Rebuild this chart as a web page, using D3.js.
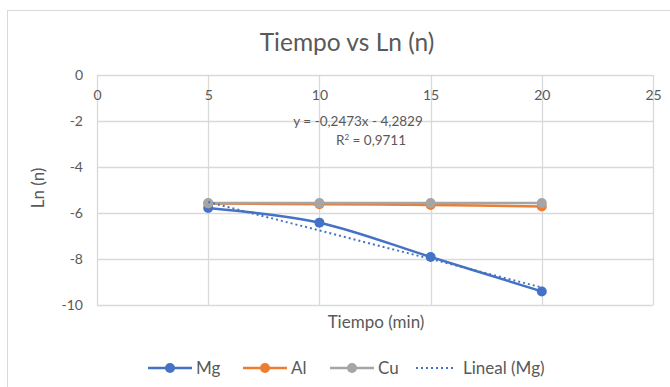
<!DOCTYPE html>
<html>
<head>
<meta charset="utf-8">
<script src="https://cdn.jsdelivr.net/npm/d3@7"></script>
<style>
   body { margin: 0; background: #fff; }
   svg { font-family: Lato, "Open Sans", sans-serif; }
</style>
</head>
<body>
<svg id="chart" width="670" height="387"></svg>
<script>
// DATA
var tiempo = [5, 10, 15, 20];
var lnMg = [-5.78, -6.42, -7.91, -9.41];
var lnAl = [-5.59, -5.62, -5.65, -5.72];
var lnCu = [-5.57, -5.57, -5.57, -5.57];
var xTicks = [0, 5, 10, 15, 20, 25];
var yTicks = [0, -2, -4, -6, -8, -10];
var seriesNames = ['Mg', 'Al', 'Cu'];
var seriesColors = ['#4472C4', '#ED7D31', '#A5A5A5'];
var trendLabel = 'Lineal (Mg)';
var equationText = 'y = -0,2473x - 4,2829';
var r2Value = '0,9711';

var svg = d3.select('#chart');
var textColor = '#595959';
var gridColor = '#d9d9d9';

var bounds = {left: 97, right: 653, top: 75, bottom: 305};

var x = d3.scaleLinear().domain([0, 25]).range([bounds.left, bounds.right]);
var y = d3.scaleLinear().domain([-10, 0]).range([bounds.bottom, bounds.top]);

// outer chart frame
svg.append('rect')
   .attr('x', 7.5).attr('y', 10.5)
   .attr('width', 700).attr('height', 420)
   .attr('fill', '#fff')
   .attr('stroke', gridColor);

// title
svg.append('text')
   .attr('x', 347).attr('y', 51)
   .attr('text-anchor', 'middle')
   .attr('fill', textColor)
   .style('font-size', '24.5px')
   .text('Tiempo vs Ln (n)');

// grid
var grid = svg.append('g').attr('class', 'grid');
grid.selectAll('.hgrid').data(yTicks).enter().append('line')
   .attr('x1', bounds.left).attr('x2', bounds.right)
   .attr('y1', function (d) { return Math.round(y(d)) + 0.5; })
   .attr('y2', function (d) { return Math.round(y(d)) + 0.5; })
   .attr('stroke', gridColor).attr('stroke-width', 1.3);
grid.selectAll('.vgrid').data(xTicks).enter().append('line')
   .attr('y1', bounds.top).attr('y2', bounds.bottom)
   .attr('x1', function (d) { return Math.round(x(d)) + 0.5; })
   .attr('x2', function (d) { return Math.round(x(d)) + 0.5; })
   .attr('stroke', gridColor).attr('stroke-width', 1.3);

// x axis sits at y = 0 (top), labels below it
var xAxis = d3.axisBottom(x).tickValues(xTicks).tickSize(0).tickPadding(15);
var gx = svg.append('g')
   .attr('transform', 'translate(0,' + y(0) + ')')
   .call(xAxis);
gx.select('.domain').remove();
gx.selectAll('text').attr('fill', textColor).style('font-size', '14px').style('font-family', 'Lato, sans-serif');

var yAxis = d3.axisLeft(y).tickValues(yTicks).tickSize(0).tickPadding(14)
   .tickFormat(function (d) { return d === 0 ? '0' : d3.format('d')(d).replace('−', '-'); });
var gy = svg.append('g')
   .attr('transform', 'translate(' + bounds.left + ',0)')
   .call(yAxis);
gy.select('.domain').remove();
gy.selectAll('text').attr('fill', textColor).style('font-size', '14px').style('font-family', 'Lato, sans-serif');

// axis titles
svg.append('text')
   .attr('x', 376).attr('y', 328)
   .attr('text-anchor', 'middle')
   .attr('fill', textColor)
   .style('font-size', '17px')
   .text('Tiempo (min)');
svg.append('text')
   .attr('transform', 'translate(44,188) rotate(-90)')
   .attr('text-anchor', 'middle')
   .attr('fill', textColor)
   .style('font-size', '17px')
   .text('Ln (n)');

// linear trend for Mg (least squares)
var mx = d3.mean(tiempo), my = d3.mean(lnMg);
var slope = d3.sum(tiempo, function (t, i) { return (t - mx) * (lnMg[i] - my); }) /
   d3.sum(tiempo, function (t) { return (t - mx) * (t - mx); });
var intercept = my - slope * mx;
var trendX = d3.extent(tiempo);

// series
var allSeries = [lnMg, lnAl, lnCu];
var line = d3.line()
   .x(function (d) { return x(d[0]); })
   .y(function (d) { return y(d[1]); })
   .curve(d3.curveCatmullRom.alpha(0.5));

[0, 1, 2].forEach(function (s) {
   var pts = tiempo.map(function (t, i) { return [t, allSeries[s][i]]; });
   svg.append('path')
      .attr('d', line(pts))
      .attr('fill', 'none')
      .attr('stroke', seriesColors[s])
      .attr('stroke-width', 2.5);
   svg.selectAll('.m' + s).data(pts).enter().append('circle')
      .attr('cx', function (d) { return x(d[0]); })
      .attr('cy', function (d) { return y(d[1]); })
      .attr('r', 5)
      .attr('fill', seriesColors[s]);
});

svg.append('line')
   .attr('x1', x(trendX[0])).attr('y1', y(slope * trendX[0] + intercept))
   .attr('x2', x(trendX[1])).attr('y2', y(slope * trendX[1] + intercept))
   .attr('stroke', seriesColors[0])
   .attr('stroke-width', 2)
   .attr('stroke-dasharray', '2,3');

// equation labels
svg.append('text')
   .attr('x', 358).attr('y', 126)
   .attr('text-anchor', 'middle')
   .attr('fill', textColor)
   .style('font-size', '13.5px')
   .text(equationText);
var r2 = svg.append('text')
   .attr('x', 371).attr('y', 145)
   .attr('text-anchor', 'middle')
   .attr('fill', textColor)
   .style('font-size', '13.5px');
r2.append('tspan').text('R');
r2.append('tspan').attr('dy', -5).style('font-size', '8px').text('2');
r2.append('tspan').attr('dy', 5).text(' = ' + r2Value);

// legend
var legendX = [148, 243, 330];
var legendY = 368;
seriesNames.forEach(function (name, i) {
   var g = svg.append('g').attr('transform', 'translate(' + legendX[i] + ',' + legendY + ')');
   g.append('line').attr('x1', 0).attr('x2', 44).attr('y1', 0).attr('y2', 0)
      .attr('stroke', seriesColors[i]).attr('stroke-width', 2.5);
   g.append('circle').attr('cx', 22).attr('cy', 0).attr('r', 5).attr('fill', seriesColors[i]);
   g.append('text').attr('x', 48).attr('y', 6)
      .attr('fill', textColor).style('font-size', '17px').text(name);
});
var tg = svg.append('g').attr('transform', 'translate(416,' + legendY + ')');
tg.append('line').attr('x1', 0).attr('x2', 38).attr('y1', 0).attr('y2', 0)
   .attr('stroke', seriesColors[0]).attr('stroke-width', 2).attr('stroke-dasharray', '2,3');
tg.append('text').attr('x', 47).attr('y', 6)
   .attr('fill', textColor).style('font-size', '17px').text(trendLabel);
</script>
</body>
</html>
